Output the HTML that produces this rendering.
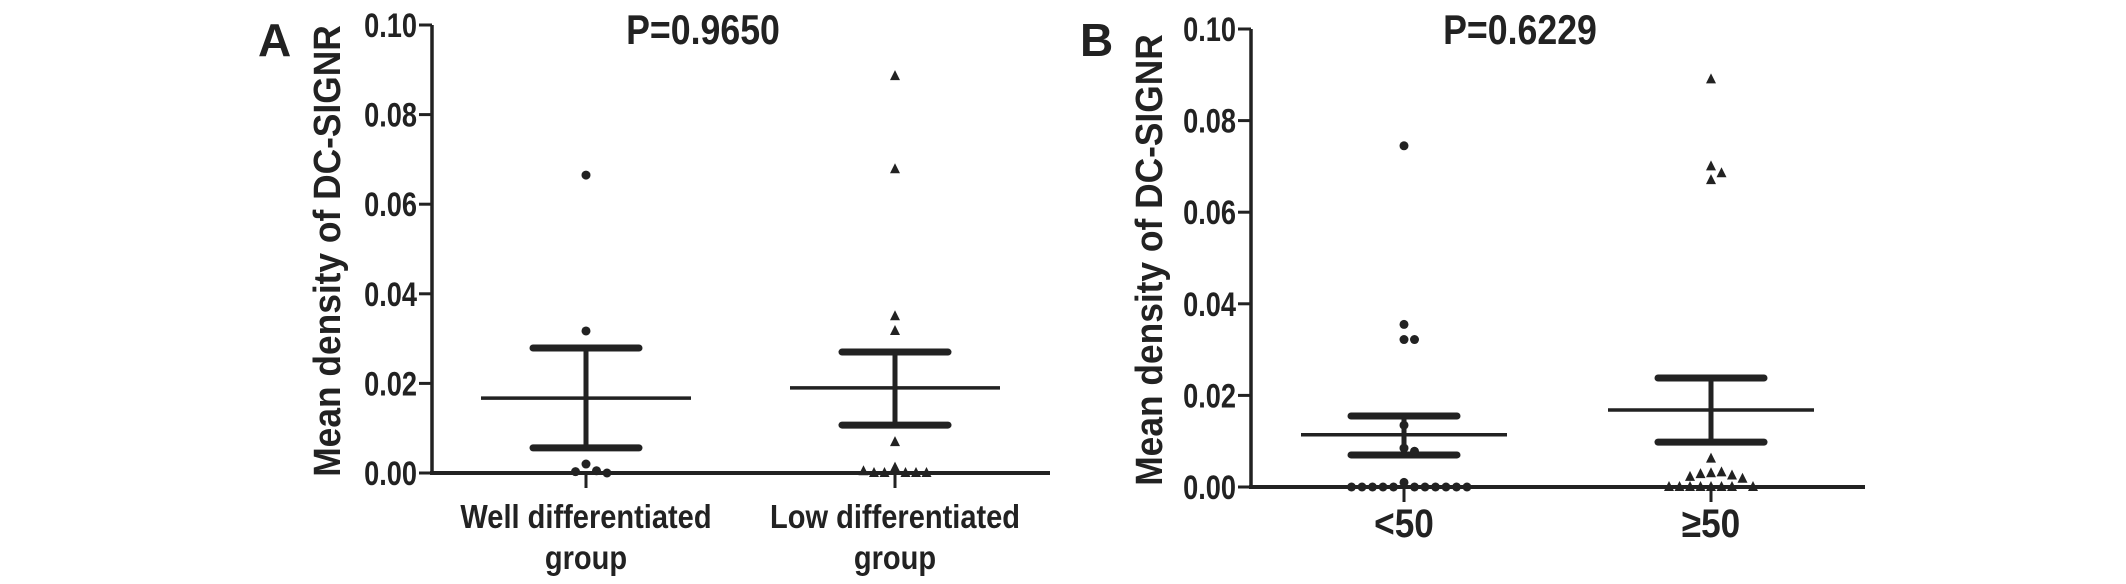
<!DOCTYPE html>
<html><head><meta charset="utf-8">
<style>
html,body{margin:0;padding:0;background:#fff;}
svg{display:block;}
text{font-family:"Liberation Sans",Arial,sans-serif;font-weight:bold;fill:#222;}
</style></head>
<body>
<svg id="chart" width="2126" height="584" viewBox="0 0 2126 584"></svg>
<script>
// Panel A data
const catsA = ["Well differentiated|group", "Low differentiated|group"];
const meanA = [0.0167, 0.019];
const upperA = [0.0279, 0.027];
const lowerA = [0.0056, 0.0107];
const pointsA0 = [0.0665, 0.0317, 0.002, 0.0005, 0.0003, 0.0];
const pointsA1 = [0.0886, 0.0678, 0.035, 0.0317, 0.0069, 0.0012, 0.0, 0.0, 0.0, 0.0, 0.0, 0.0004];
const pA = "P=0.9650";
// Panel B data
const catsB = ["<50", "\u226550"];
const meanB = [0.0114, 0.0168];
const upperB = [0.0155, 0.0238];
const lowerB = [0.007, 0.0098];
const pointsB0 = [0.0745, 0.0355, 0.0322, 0.0322, 0.0135, 0.0085, 0.0078, 0.001, 0.0, 0.0, 0.0, 0.0, 0.0, 0.0, 0.0, 0.0, 0.0, 0.0, 0.0];
const pointsB1 = [0.089, 0.070, 0.0685, 0.067, 0.0062, 0.003, 0.0032, 0.0028, 0.0025, 0.0022, 0.0018, 0.0, 0.0, 0.0, 0.0, 0.0, 0.0, 0.0, 0.0];
const pB = "P=0.6229";
const yTicks = [0, 0.02, 0.04, 0.06, 0.08, 0.10];
const yTickLabels = ["0.00", "0.02", "0.04", "0.06", "0.08", "0.10"];

const NS = "http://www.w3.org/2000/svg";
const svg = document.getElementById("chart");
function mk(tag, attrs, parent) {
  const e = document.createElementNS(NS, tag);
  for (const k in attrs) e.setAttribute(k, attrs[k]);
  (parent || svg).appendChild(e);
  return e;
}
function txt(parent, str, x, y, size, sx, anchor, rot) {
  const t = mk("text", {x: 0, y: 0, "font-size": size, "text-anchor": anchor || "start",
    transform: `translate(${x},${y})${rot ? ' rotate(-90)' : ''} scale(${sx},1)`}, parent);
  t.textContent = str;
  return t;
}

function drawPanel(cfg) {
  const g = mk("g", {});
  
  
  const y = v => cfg.y0 - (v / 0.1) * (cfg.y0 - cfg.y1);
  const x = i => cfg.cx[i];
  const L = txt(g, cfg.letter, cfg.letterX, 56, 46, 1, "start");
  
  
  const T = txt(g, cfg.p, cfg.titleX, 44, 42, 0.85, "middle");
  
  
  const YT = txt(g, "Mean density of DC-SIGNR", cfg.ytX, (cfg.y0 + cfg.y1) / 2 + 2, 38, 0.93, "middle", true);
  
  
  const ya = mk("line", {x1: cfg.ax, y1: y(0.1), x2: cfg.ax, y2: y(0), stroke: "#222", "stroke-width": 3.5}, g);
  
  
  const xa = mk("line", {x1: cfg.ax - 2, y1: y(0), x2: cfg.axEnd, y2: y(0), stroke: "#222", "stroke-width": 4}, g);
  
  
  yTicks.forEach((t, i) => {
    const tk = mk("line", {x1: cfg.ax - 13, y1: y(t), x2: cfg.ax, y2: y(t), stroke: "#222", "stroke-width": 3}, g);
    
    
    const tl = txt(g, yTickLabels[i], cfg.ax - 15, y(t) + 12, 34, 0.8, "end");
    
    
  });
  cfg.cats.forEach((c, i) => {
    const tk = mk("line", {x1: x(i), y1: y(0), x2: x(i), y2: y(0) + 15, stroke: "#222", "stroke-width": 3}, g);
    
    
    const lines = c.split("|");
    lines.forEach((ln, j) => {
      const tl = txt(g, ln, x(i), cfg.labY + j * 41, cfg.labSize, cfg.labSx, "middle");
      
      
    });
    const hw = cfg.meanHW, cw = cfg.capHW;
    const m = mk("line", {x1: x(i) - hw, y1: y(cfg.mean[i]), x2: x(i) + hw, y2: y(cfg.mean[i]), stroke: "#222", "stroke-width": 3.5}, g);
    
    
    const v = mk("line", {x1: x(i), y1: y(cfg.upper[i]), x2: x(i), y2: y(cfg.lower[i]), stroke: "#222", "stroke-width": 5}, g);
    
    
    [cfg.upper[i], cfg.lower[i]].forEach(val => {
      const cap = mk("line", {x1: x(i) - cw, y1: y(val), x2: x(i) + cw, y2: y(val), stroke: "#222", "stroke-width": 7, "stroke-linecap": "round"}, g);
      
      
    });
    const pts = cfg.points[i];
    const placed = [];
    pts.forEach(val => {
      const py = y(val);
      let off = 0;
      const offs = [0];
      for (let s = 1; s < 20; s++) { offs.push(s * 10.5, -s * 10.5); }
      for (let k = 0; k < offs.length; k++) {
        off = offs[k];
        if (!placed.some(p => Math.hypot(p[0] - (x(i) + off), p[1] - py) < 10)) break;
      }
      const px = x(i) + off;
      placed.push([px, py]);
      let mkr;
      if (i === 0) {
        mkr = mk("circle", {cx: px, cy: py, r: 4.5, fill: "#222"}, g);
      } else {
        mkr = mk("polygon", {points: `${px},${py - 6} ${px - 5},${py + 4} ${px + 5},${py + 4}`, fill: "#222"}, g);
      }
      
      
    });
  });
}

drawPanel({name: "panel-a", letter: "A", letterX: 258, p: pA, titleX: 703, ytX: 340,
  ax: 432, axEnd: 1050, y0: 473, y1: 25, cx: [586, 895], cats: catsA,
  mean: meanA, upper: upperA, lower: lowerA, points: [pointsA0, pointsA1],
  meanHW: 105, capHW: 53, labY: 528, labSize: 33, labSx: 0.88});
drawPanel({name: "panel-b", letter: "B", letterX: 1080, p: pB, titleX: 1520, ytX: 1162,
  ax: 1251, axEnd: 1865, y0: 487, y1: 29, cx: [1404, 1711], cats: catsB,
  mean: meanB, upper: upperB, lower: lowerB, points: [pointsB0, pointsB1],
  meanHW: 103, capHW: 53, labY: 537, labSize: 40, labSx: 0.88});
</script>
</body></html>
